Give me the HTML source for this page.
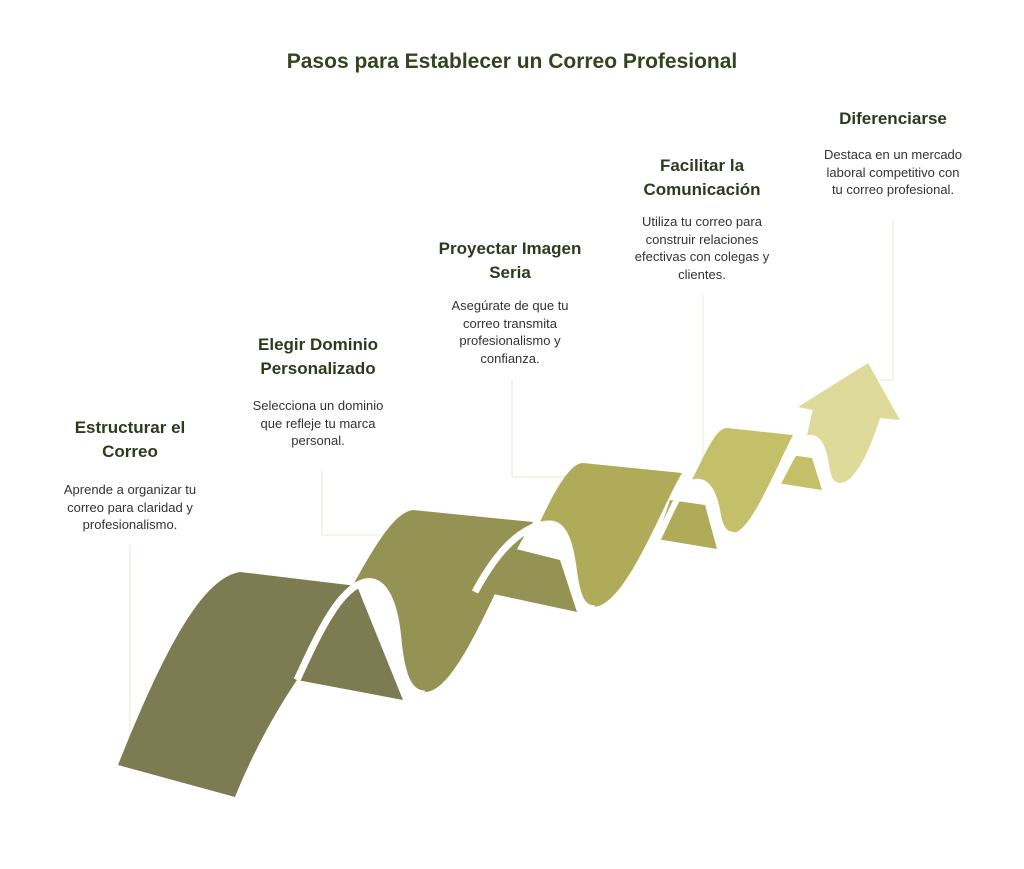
<!DOCTYPE html>
<html><head><meta charset="utf-8"><style>
body{margin:0;width:1024px;height:869px;background:#fff;position:relative;overflow:hidden;font-family:"Liberation Sans",sans-serif}
.t{position:absolute;width:240px;text-align:center;font-weight:bold;font-size:17px;line-height:24px;color:#2e3a1e}
.b{position:absolute;width:240px;text-align:center;font-size:13px;line-height:17.5px;color:#333}
h1{position:absolute;top:50px;left:0;width:1024px;text-align:center;margin:0;font-size:21px;color:#33441f}
</style></head><body>
<svg width="1024" height="869" style="position:absolute;left:0;top:0">
<g stroke="#f0f0e6" stroke-width="1.5" fill="none">
<path d="M130,545 V760"/>
<path d="M322,470 V535 H380"/>
<path d="M512,380 V477 H575"/>
<path d="M703,295 V460"/>
<path d="M893,220 V380 H880"/>
</g>
<!-- seg1 -->
<path fill="#7d7b52" d="M118,765 C160,660 200,578 240,572 L357,586 L403,700 L297,680 C270,720 250,760 235,797 Z"/>
<!-- seg2 -->
<path fill="#959354" d="M353,585 C375,545 395,512 413,510 L533,522 C500,570 460,692 425,692 C405,692 402,660 398,630 C394,600 385,582 365,582 Z"/>
<path fill="#959354" d="M475,590 L577,612 L560,560 L500,545 Z"/>
<path d="M297,680 C320,630 340,588 365,582 C385,578 395,605 398,640 C402,680 410,694 425,694" stroke="#fff" stroke-width="7" fill="none"/>
<!-- seg3 -->
<path fill="#b0ab58" d="M540,522 C555,490 570,463 583,463 L682,473 C660,510 625,607 593,607 C578,607 576,580 573,560 C569,535 560,525 550,527 Z"/>
<path fill="#b0ab58" d="M657,539 L717,549 L705,505 L670,500 Z"/>
<path d="M475,592 C495,555 520,524 550,524 C566,524 571,550 574,575 C578,600 583,609 595,609" stroke="#fff" stroke-width="7" fill="none"/>
<!-- seg4 -->
<path fill="#c4c06a" d="M690,484 C705,455 715,428 727,428 L793,435 C775,470 750,533 733,533 C722,533 720,515 717,500 C714,488 705,482 695,484 Z"/>
<path fill="#c4c06a" d="M777,483 L822,490 L812,458 L790,455 Z"/>
<path d="M657,541 C670,515 680,485 695,482 C708,480 714,495 717,510 C720,530 725,535 735,535" stroke="#fff" stroke-width="6" fill="none"/>
<!-- arrow -->
<path fill="#dedb9a" d="M806,440 C808,432 810,420 813,410 L798,407 L868,363 L900,420 L880,418 C870,450 855,483 840,483 C830,483 828,465 826,455 C823,444 815,438 806,440 Z"/>
<path d="M777,485 C788,465 798,440 810,438 C820,437 824,452 826,465 C828,480 832,486 840,486" stroke="#fff" stroke-width="6" fill="none"/>
</svg>
<h1>Pasos para Establecer un Correo Profesional</h1>
<div class="t" style="left:10px;top:416px">Estructurar el<br>Correo</div>
<div class="b" style="left:10px;top:481px">Aprende a organizar tu<br>correo para claridad y<br>profesionalismo.</div>
<div class="t" style="left:198px;top:333px">Elegir Dominio<br>Personalizado</div>
<div class="b" style="left:198px;top:397px">Selecciona un dominio<br>que refleje tu marca<br>personal.</div>
<div class="t" style="left:390px;top:237px">Proyectar Imagen<br>Seria</div>
<div class="b" style="left:390px;top:297px">Asegúrate de que tu<br>correo transmita<br>profesionalismo y<br>confianza.</div>
<div class="t" style="left:582px;top:154px">Facilitar la<br>Comunicación</div>
<div class="b" style="left:582px;top:213px">Utiliza tu correo para<br>construir relaciones<br>efectivas con colegas y<br>clientes.</div>
<div class="t" style="left:773px;top:107px">Diferenciarse</div>
<div class="b" style="left:773px;top:146px">Destaca en un mercado<br>laboral competitivo con<br>tu correo profesional.</div>
</body></html>
